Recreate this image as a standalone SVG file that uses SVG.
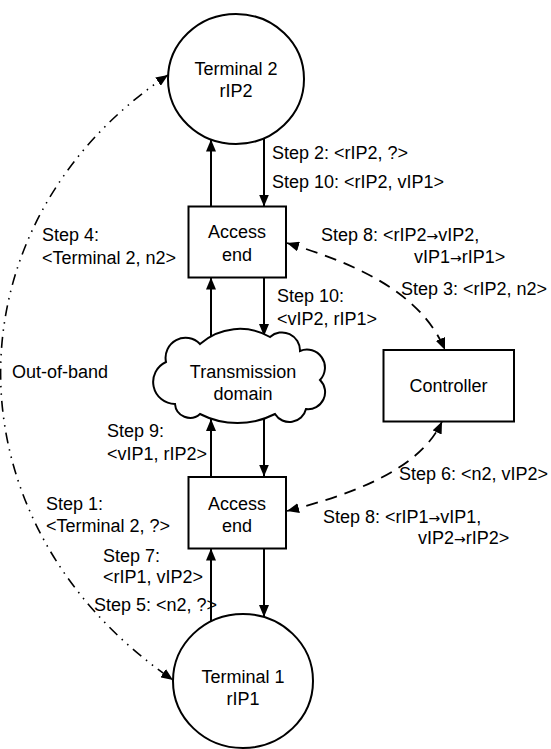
<svg xmlns="http://www.w3.org/2000/svg" width="551" height="749" viewBox="0 0 551 749">
<style>
text{font-family:"Liberation Sans",Arial,Helvetica,sans-serif;font-size:18px;fill:#000}
.c{text-anchor:middle}
.ar{font-family:"DejaVu Sans",sans-serif;font-size:14px}
.node{fill:#fff;stroke:#000;stroke-width:2}
.arr{stroke:#000;stroke-width:2;fill:none;marker-end:url(#ah)}
.dash{stroke:#000;stroke-width:1.8;fill:none;stroke-dasharray:12 8;marker-start:url(#ah);marker-end:url(#ah)}
.oob{stroke:#000;stroke-width:1.6;fill:none;stroke-dasharray:11 6 1.5 6 1.5 6;marker-start:url(#ah);marker-end:url(#ah)}
</style>
<defs>
<marker id="ah" viewBox="0 0 12 10" refX="12" refY="5" markerWidth="12" markerHeight="10" markerUnits="userSpaceOnUse" orient="auto-start-reverse">
<path d="M0,0 L12,5 L0,10 z" fill="#000"/>
</marker>
</defs>
<rect width="551" height="749" fill="#fff"/>
<g id="connectors">
<line class="arr" x1="211" y1="206.5" x2="211" y2="139.5"/>
<line class="arr" x1="264" y1="138.5" x2="264" y2="206.5"/>
<line class="arr" x1="211" y1="338" x2="211" y2="277.5"/>
<line class="arr" x1="264" y1="277.5" x2="264" y2="336"/>
<line class="arr" x1="211" y1="476.5" x2="211" y2="419"/>
<line class="arr" x1="264" y1="419" x2="264" y2="476.5"/>
<line class="arr" x1="211" y1="621" x2="211" y2="548.5"/>
<line class="arr" x1="264" y1="548.5" x2="264" y2="617"/>
<path class="dash" d="M287,243 C350,262 420,290 445,350"/>
<path class="dash" d="M287,511 C350,495 420,470 442,421.5"/>
<path class="oob" d="M168,75 C-56,225 -56,523 173,680"/>
</g>
<g id="terminal2">
<ellipse class="node" cx="236" cy="79" rx="68" ry="65"/>
<text class="c" x="236" y="75">Terminal 2</text>
<text class="c" x="236" y="97">rIP2</text>
</g>
<g id="access-end-top">
<rect class="node" x="188.5" y="206.5" width="97.5" height="71"/>
<text class="c" x="237" y="238">Access</text>
<text class="c" x="237" y="261">end</text>
</g>
<g id="transmission-domain">
<path class="node" d="M175,404 A22,22 0 0 1 166,362 A20,20 0 0 1 200,344 A60,60 0 0 1 270,337 A18,18 0 0 1 300,351 A18,18 0 0 1 320,380 A17,17 0 0 1 306,409 A17,17 0 0 1 275,414 A82,82 0 0 1 200,414 A15,15 0 0 1 175,404 Z"/>
<text class="c" x="243" y="378">Transmission</text>
<text class="c" x="243" y="400">domain</text>
</g>
<g id="controller">
<rect class="node" x="383.5" y="350" width="130.5" height="71.5"/>
<text class="c" x="448.5" y="392">Controller</text>
</g>
<g id="access-end-bottom">
<rect class="node" x="188.5" y="477" width="97.5" height="71.5"/>
<text class="c" x="237" y="509.5">Access</text>
<text class="c" x="237" y="532">end</text>
</g>
<g id="terminal1">
<ellipse class="node" cx="243" cy="681" rx="70" ry="67"/>
<text class="c" x="243" y="683">Terminal 1</text>
<text class="c" x="243" y="705">rIP1</text>
</g>
<g id="labels">
<text x="272" y="159">Step 2: &lt;rIP2, ?&gt;</text>
<text x="272" y="188">Step 10: &lt;rIP2, vIP1&gt;</text>
<text x="42" y="241">Step 4:</text>
<text x="42" y="264">&lt;Terminal 2, n2&gt;</text>
<text x="321" y="241">Step 8: &lt;rIP2<tspan class="ar">→</tspan>vIP2,</text>
<text x="414" y="263">vIP1<tspan class="ar">→</tspan>rIP1&gt;</text>
<text x="401" y="295">Step 3: &lt;rIP2, n2&gt;</text>
<text x="277" y="302">Step 10:</text>
<text x="277" y="325">&lt;vIP2, rIP1&gt;</text>
<text x="12" y="378">Out-of-band</text>
<text x="107" y="437">Step 9:</text>
<text x="107" y="460">&lt;vIP1, rIP2&gt;</text>
<text x="399" y="480">Step 6: &lt;n2, vIP2&gt;</text>
<text x="46" y="510">Step 1:</text>
<text x="46" y="532">&lt;Terminal 2, ?&gt;</text>
<text x="323" y="523">Step 8: &lt;rIP1<tspan class="ar">→</tspan>vIP1,</text>
<text x="418" y="544">vIP2<tspan class="ar">→</tspan>rIP2&gt;</text>
<text x="103" y="562">Step 7:</text>
<text x="103" y="583">&lt;rIP1, vIP2&gt;</text>
<text x="94" y="611">Step 5: &lt;n2, ?&gt;</text>
</g>
</svg>
